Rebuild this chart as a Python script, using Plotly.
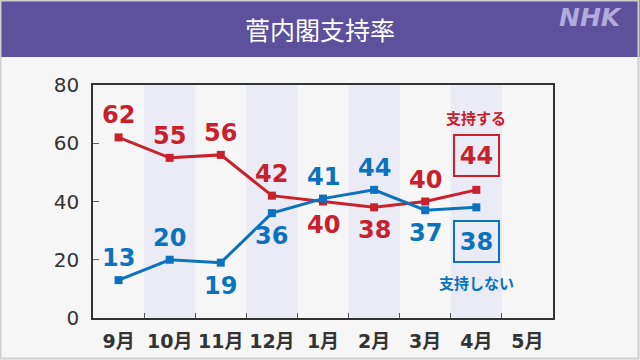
import plotly.graph_objects as go

months = ["9月", "10月", "11月", "12月", "1月", "2月", "3月", "4月", "5月"]
support = [62, 55, 56, 42, 40, 38, 40, 44]
nonsupport = [13, 20, 19, 36, 41, 44, 37, 38]
support_pos = ["above", "above", "above", "above", "below", "below", "above"]
nonsupport_pos = ["above", "above", "below", "below", "above", "above", "below"]
yticks = [0, 20, 40, 60, 80]
title = "菅内閣支持率"
label_support = "支持する"
label_nonsupport = "支持しない"

RED = "#c8202d"
BLUE = "#0b72be"
BG = "#f6f6f6"
BAND = "#ebebf5"
DARK = "#333333"
NUMFONT = "DejaVu Sans"
JPFONT = "Noto Sans CJK JP"

L, R, T, B = 93, 87, 85, 42
PW, PH = 640 - L - R, 360 - T - B

def px_x(p):
    return (p - L) / PW

def px_y(p):
    return (360 - B - p) / PH

fig = go.Figure()

fig.add_trace(go.Scatter(
    x=months[:len(support)], y=support, mode="lines+markers",
    line=dict(color=RED, width=3), marker=dict(symbol="square", size=8, color=RED),
    hoverinfo="skip", cliponaxis=False))
fig.add_trace(go.Scatter(
    x=months[:len(nonsupport)], y=nonsupport, mode="lines+markers",
    line=dict(color=BLUE, width=3), marker=dict(symbol="square", size=8, color=BLUE),
    hoverinfo="skip", cliponaxis=False))

shapes = []
for i in range(1, len(months), 2):
    shapes.append(dict(type="rect", xref="x", yref="paper", x0=i - 0.5, x1=i + 0.5,
                       y0=0, y1=1, fillcolor=BAND, line=dict(width=0), layer="below"))
shapes.append(dict(type="rect", xref="paper", yref="paper", x0=px_x(0), x1=px_x(640),
                   y0=px_y(57), y1=px_y(0), fillcolor="#5d509d", line=dict(width=0), layer="below"))
shapes.append(dict(type="rect", xref="paper", yref="paper", x0=px_x(0.5), x1=px_x(638.5),
                   y0=px_y(358.5), y1=px_y(0.5), fillcolor="rgba(0,0,0,0)",
                   line=dict(color="#cfcfcf", width=2), layer="above"))

annotations = []
annotations.append(dict(text=title, xref="paper", yref="paper", x=px_x(320), y=px_y(29),
                        showarrow=False, font=dict(family=JPFONT, size=25, color="white"),
                        xanchor="center", yanchor="middle"))
annotations.append(dict(text="NHK", xref="paper", yref="paper", x=px_x(590), y=px_y(17),
                        showarrow=False,
                        font=dict(family="DejaVu Sans", size=25, color="#b2abdc",
                                  weight="bold", style="italic"),
                        xanchor="center", yanchor="middle"))

def add_labels(vals, pos, color):
    for i, (v, p) in enumerate(zip(vals, pos)):
        annotations.append(dict(text=str(v), x=i, y=v, xref="x", yref="y", showarrow=False,
                                yshift=22 if p == "above" else -23,
                                font=dict(family=NUMFONT, size=24, color=color, weight="bold"),
                                xanchor="center", yanchor="middle"))

add_labels(support, support_pos, RED)
add_labels(nonsupport, nonsupport_pos, BLUE)

last = len(support) - 1
annotations.append(dict(text=str(support[last]), x=last, y=support[last], xref="x", yref="y",
                        showarrow=False, yshift=34, width=43, height=39,
                        bordercolor=RED, borderwidth=2, borderpad=0,
                        font=dict(family=NUMFONT, size=24, color=RED, weight="bold")))
annotations.append(dict(text=str(nonsupport[last]), x=last, y=nonsupport[last], xref="x", yref="y",
                        showarrow=False, yshift=-34, width=43, height=39,
                        bordercolor=BLUE, borderwidth=2, borderpad=0,
                        font=dict(family=NUMFONT, size=24, color=BLUE, weight="bold")))
annotations.append(dict(text=label_support, x=last, y=support[last], xref="x", yref="y",
                        showarrow=False, yshift=72,
                        font=dict(family=JPFONT, size=15, color=RED, weight="bold")))
annotations.append(dict(text=label_nonsupport, x=last, y=nonsupport[last], xref="x", yref="y",
                        showarrow=False, yshift=-75,
                        font=dict(family=JPFONT, size=15, color=BLUE, weight="bold")))

fig.update_layout(
    width=640, height=360, margin=dict(l=L, r=R, t=T, b=B),
    paper_bgcolor=BG, plot_bgcolor=BG, showlegend=False,
    shapes=shapes, annotations=annotations,
    xaxis=dict(type="category", categoryorder="array", categoryarray=months,
               range=[-0.5, len(months) - 0.5], tickson="boundaries",
               ticks="inside", ticklen=5, tickcolor="#555555", tickwidth=1,
               tickangle=0, automargin=False,
               showgrid=False, zeroline=False, showline=True, mirror=True,
               linecolor=DARK, linewidth=1.5, ticklabelstandoff=5,
               tickfont=dict(family="DejaVu Sans, Noto Sans CJK JP", size=19, color=DARK, weight="bold"),
               fixedrange=True),
    yaxis=dict(range=[0, 80], tickvals=yticks, ticks="inside", ticklen=6, tickcolor="#666666",
               showgrid=False, zeroline=False, showline=True, mirror=True,
               linecolor=DARK, linewidth=1.5, ticklabelstandoff=8, automargin=False,
               tickfont=dict(family=NUMFONT, size=20, color=DARK)),
)

fig.write_html("out.html")
